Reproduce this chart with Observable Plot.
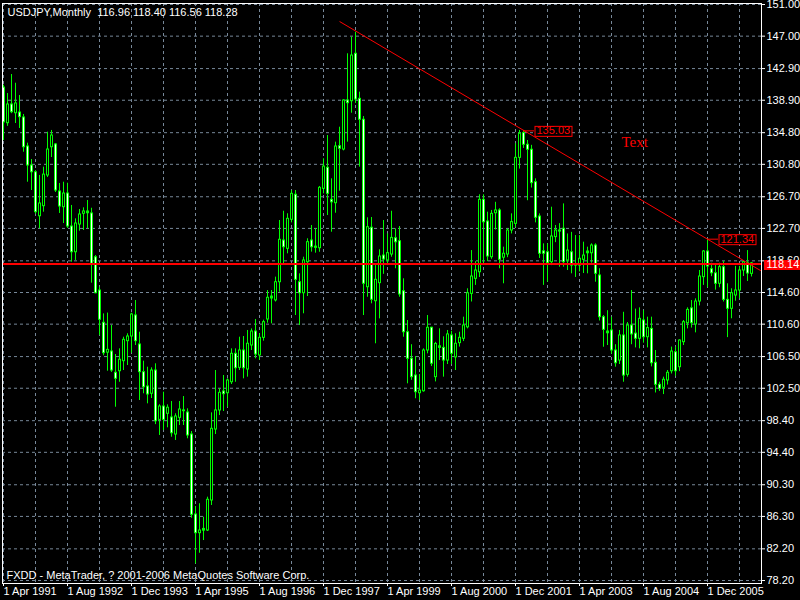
<!DOCTYPE html>
<html><head><meta charset="utf-8">
<script src="https://cdn.jsdelivr.net/npm/d3@7"></script>
<script src="https://cdn.jsdelivr.net/npm/@observablehq/plot@0.6"></script>
<style>
html,body{margin:0;padding:0;background:#000;overflow:hidden;}
#chart svg{display:block;}
</style></head><body><div id="chart"></div>
<script>
// ---------- data ----------
const chartTitle = "USDJPY,Monthly  116.96 118.40 116.56 118.28";
const copyrightText = "FXDD - MetaTrader, ? 2001-2006 MetaQuotes Software Corp.";

// monthly bars, index 0 = Apr 1991
const opens = [140.5,136.0,138.36,137.26,137.35,136.72,133.05,130.65,129.8,124.24,125.51,129.39,132.96,133.31,127.37,125.38,127.11,122.94,119.69,123.19,124.55,124.84,124.59,119.06,114.85,110.77,107.0,107.14,104.45,104.65,105.92,108.45,109.04,111.7,108.03,104.53,102.72,101.8,104.74,98.5,100.19,99.27,98.8,96.65,98.76,99.7,99.43,96.65,86.54,84.18,84.5,84.52,88.31,97.28,99.69,102.09,101.87,103.26,106.85,105.08,107.27,104.87,107.9,109.67,106.64,108.87,111.19,113.84,113.6,115.9,121.17,120.12,123.79,126.95,115.9,114.51,118.43,121.17,120.4,120.2,127.7,130.36,126.31,125.89,133.09,132.67,138.87,138.78,144.77,139.08,136.43,115.27,122.78,113.5,115.78,119.27,118.65,119.4,121.46,121.08,114.76,109.58,106.22,104.11,101.87,102.12,107.27,110.14,103.9,107.8,107.6,106.0,109.17,106.4,108.2,108.75,110.2,114.43,116.33,117.16,126.31,123.57,119.06,124.62,124.97,119.0,119.4,122.44,123.28,131.62,134.74,133.27,132.64,128.54,124.2,119.8,119.69,118.43,121.6,122.44,122.65,118.65,119.69,118.0,118.0,118.73,119.56,119.56,120.54,116.75,111.48,109.67,109.8,107.27,106.0,109.17,104.2,110.43,109.4,108.75,111.06,108.95,110.0,105.71,102.93,102.55,103.48,104.65,107.05,105.16,108.32,110.72,112.6,110.56,113.46,116.54,119.78,117.54,117.03,115.7,117.8,113.67,112.54,114.22,114.85,117.38,118.3,116.96];
const highs = [140.8,139.75,142.15,141.05,139.5,137.1,133.47,131.41,130.0,129.39,130.44,134.86,135.08,133.43,128.38,128.54,128.41,125.6,123.91,125.09,125.3,126.23,125.25,119.27,115.27,111.9,112.0,110.43,106.76,107.48,108.95,109.38,111.98,113.59,109.58,105.92,105.16,105.08,105.59,100.41,102.0,100.4,100.82,99.27,100.82,101.45,99.9,97.03,87.55,87.9,86.2,88.73,99.39,104.74,102.43,104.11,103.69,107.48,107.48,108.95,109.04,109.8,110.0,111.19,109.38,111.1,114.85,114.85,116.54,123.7,124.87,124.55,127.49,127.49,116.96,119.06,121.39,123.07,122.65,128.0,131.5,134.44,128.97,133.6,135.49,138.96,144.77,146.87,147.5,139.92,136.84,124.04,124.08,118.0,120.0,123.7,122.0,124.87,122.65,122.94,116.33,111.06,108.0,106.5,104.23,107.48,111.69,110.21,108.3,110.01,109.0,109.8,109.7,109.38,109.58,111.48,115.07,119.9,118.5,126.95,126.95,124.75,124.97,126.0,125.18,120.33,122.65,124.54,133.4,135.08,135.08,133.81,133.2,128.97,124.54,120.75,120.75,125.38,123.07,123.3,125.8,122.0,122.2,121.8,121.8,120.96,120.33,120.75,120.75,117.6,111.69,112.3,111.48,108.0,109.8,112.1,110.8,114.85,112.5,112.66,112.3,111.48,111.48,107.27,103.26,103.9,104.74,107.7,107.7,108.62,111.06,112.66,113.59,113.8,117.38,119.9,121.34,118.3,118.0,118.3,118.5,115.7,115.07,117.9,117.9,118.55,119.9,118.40];
const lows = [133.8,135.6,137.2,135.96,135.33,132.33,128.54,127.49,124.5,122.65,124.75,129.13,131.66,127.24,124.59,123.32,122.69,118.43,118.65,122.35,122.44,122.65,115.78,114.43,109.17,106.6,104.65,104.5,100.1,103.26,104.74,105.37,106.93,107.9,100.95,101.8,100.53,101.2,97.9,96.53,97.16,97.5,96.31,95.9,97.79,97.79,96.11,86.07,80.3,81.65,83.25,84.39,87.68,96.65,99.05,99.56,100.1,102.97,103.26,104.74,103.69,103.9,107.27,106.22,106.01,108.45,110.72,110.64,113.4,114.64,118.23,119.49,123.4,111.69,110.43,111.91,114.09,119.7,119.57,119.69,127.07,124.33,122.22,124.62,127.4,132.5,133.6,137.26,138.5,130.44,111.69,114.0,113.17,108.12,111.27,116.9,118.0,119.06,117.6,114.0,108.95,103.06,103.5,101.17,100.95,102.0,106.85,105.24,103.3,106.0,103.9,105.5,105.5,104.74,107.7,108.4,110.0,113.4,115.5,116.5,118.23,118.5,118.8,122.5,117.6,115.7,119.0,122.0,122.8,130.2,132.8,126.2,127.8,123.4,118.9,115.5,115.9,118.0,120.9,117.8,117.8,117.38,116.96,116.5,117.2,117.0,116.96,118.3,115.9,111.0,107.68,107.9,106.8,105.16,105.5,103.26,103.9,108.0,107.6,107.48,108.2,107.6,105.2,101.9,102.1,101.7,102.9,104.3,104.0,104.6,107.9,110.0,110.1,109.5,112.9,115.5,115.2,116.6,114.9,115.2,113.4,108.9,111.28,113.5,113.8,116.62,116.0,116.56];
const closes = [136.1,138.36,137.39,138.49,136.76,132.96,130.65,129.8,124.75,125.85,129.5,132.67,134.44,127.49,125.47,127.11,122.94,119.69,123.32,124.46,124.84,124.62,118.23,114.51,111.15,106.93,107.35,104.74,103.69,106.1,108.62,109.04,111.82,108.45,104.53,102.63,101.71,104.74,98.33,100.19,98.5,100.03,96.81,98.93,99.81,99.6,96.53,86.5,84.18,84.52,84.72,88.4,97.37,99.69,101.92,101.75,103.48,106.85,105.03,107.27,105.03,108.12,109.67,106.76,108.87,110.85,113.93,114.09,115.9,121.26,120.32,123.91,127.07,116.2,114.51,118.65,120.96,120.32,120.24,127.83,130.52,127.07,126.0,133.05,132.76,138.87,138.53,144.55,138.99,136.43,115.7,122.85,113.68,116.2,119.15,118.77,119.57,121.5,120.95,114.35,109.58,106.22,103.9,102.0,102.2,107.27,110.14,105.59,108.1,107.6,106.0,109.3,106.85,108.12,108.87,110.43,114.51,116.62,117.38,126.31,123.48,119.15,124.54,124.97,118.73,119.5,122.44,123.5,131.62,134.66,133.27,132.64,128.42,124.04,119.49,119.5,118.3,121.68,122.44,122.3,118.43,119.9,118.0,118.1,118.86,119.27,119.78,120.54,116.96,111.48,109.88,109.45,107.27,105.66,109.17,104.1,110.43,109.3,108.75,111.27,108.95,110.1,105.66,102.93,102.43,103.57,104.45,107.14,104.65,108.53,110.85,112.4,110.72,113.46,116.62,119.78,117.88,117.03,115.7,117.8,113.67,112.54,114.51,114.85,117.38,118.43,117.0,118.28];

// axis ticks
const xTickIndex = [0,16,32,48,64,80,96,112,128,144,160,176];
const xTickLabels = ["1 Apr 1991","1 Aug 1992","1 Dec 1993","1 Apr 1995","1 Aug 1996","1 Dec 1997","1 Apr 1999","1 Aug 2000","1 Dec 2001","1 Apr 2003","1 Aug 2004","1 Dec 2005"];
const xGridIndex = [0,8,16,24,32,40,48,56,64,72,80,88,96,104,112,120,128,136,144,152,160,168,176,184];
const yTicks = [151.0,147.0,142.9,138.9,134.8,130.8,126.7,122.7,118.6,114.6,110.6,106.5,102.5,98.4,94.4,90.3,86.3,82.2,78.2];

// objects on the chart
const bidPrice = 118.14;
const trendAnchorIdx = [88, 176];
const trendAnchorPrice = [147.66, 121.34];
const trendStartIdx = 84.1, trendEndIdx = 189.25;
const priceLabelIdx = [130, 176];
const priceLabelValue = [135.03, 121.34];
const noteText = "Text", noteIdx = 154.5, notePrice = 132.95;

// ---------- build ----------
const candles = opens.map((o, i) => ({
  i, open: o, high: highs[i], low: lows[i], close: closes[i],
  top: Math.max(o, closes[i]), bottom: Math.min(o, closes[i]), bull: closes[i] >= o
}));
const slope = (trendAnchorPrice[1] - trendAnchorPrice[0]) / (trendAnchorIdx[1] - trendAnchorIdx[0]);
const trendPts = [trendStartIdx, trendEndIdx].map(i => ({i, price: trendAnchorPrice[0] + slope * (i - trendAnchorIdx[0])}));
const priceLabels = priceLabelIdx.map((i, k) => ({i, price: priceLabelValue[k]}));
const pxPerPrice = 576 / (151 - 78.2);
const thick = candles.filter(d => (d.top - d.bottom) * pxPerPrice > 2.2);

const LIME = "#00ff00", GRID = "#778899";
const FONT = "'Liberation Sans Narrow', 'Liberation Sans', Arial, sans-serif";

const chart = Plot.plot({
  width: 800, height: 600,
  marginLeft: 2, marginRight: 39, marginTop: 3, marginBottom: 17,
  style: {background: "#000", color: "#fff", fontFamily: FONT, fontSize: "11px"},
  x: {domain: [0, 187], range: [3, 751]},
  y: {domain: [78.2, 151], range: [580, 4]},
  marks: [
    Plot.gridY(yTicks, {stroke: GRID, strokeOpacity: 1, strokeDasharray: "3,3"}),
    Plot.gridX(xGridIndex, {stroke: GRID, strokeOpacity: 1, strokeDasharray: "3,3"}),
    Plot.ruleX(candles, {x: "i", y1: "low", y2: "high", stroke: LIME}),
    Plot.ruleX(candles, {x: "i", y1: "top", y2: "bottom", stroke: LIME, strokeWidth: 3, insetTop: -0.5, insetBottom: -0.5}),
    Plot.ruleX(thick.filter(d => d.bull), {x: "i", y1: "top", y2: "bottom", stroke: "#000", strokeWidth: 1, insetTop: 0.5, insetBottom: 0.5}),
    Plot.ruleX(thick.filter(d => !d.bull), {x: "i", y1: "top", y2: "bottom", stroke: "#fff", strokeWidth: 1, insetTop: 0.5, insetBottom: 0.5}),
    Plot.ruleY([bidPrice], {y: d => d, stroke: "#ff0000", strokeWidth: 2, dy: -0.5}),
    Plot.line(trendPts, {x: "i", y: "price", stroke: "#ff0000", strokeWidth: 1}),
    Plot.ruleY(priceLabels, {y: "price", x1: "i", x2: d => d.i + 2.75, stroke: "#ff0000"}),
    Plot.text(priceLabels, {x: "i", y: "price", text: d => d.price.toFixed(2), dx: 13, textAnchor: "start", lineAnchor: "middle", fill: "#ff0000"}),
    Plot.text([noteText], {x: () => noteIdx, y: () => notePrice, text: d => d, textAnchor: "start", lineAnchor: "bottom", fill: "#ff0000", fontFamily: "'Liberation Serif', 'Times New Roman', serif", fontSize: 15}),
    Plot.text([chartTitle], {frameAnchor: "top-left", text: d => d, textAnchor: "start", lineAnchor: "bottom", dx: 5, dy: 12, fill: "#fff"}),
    Plot.text([copyrightText], {frameAnchor: "bottom-left", text: d => d, textAnchor: "start", lineAnchor: "bottom", dx: 4, dy: -5, fill: "#fff"}),
    Plot.frame({stroke: "#fff"}),
    Plot.axisY(yTicks, {anchor: "right", label: null, tickSize: 3, tickPadding: 2, tickFormat: d => d.toFixed(2), stroke: "#fff", fill: "#fff"}),
    Plot.axisX(xTickIndex, {anchor: "bottom", label: null, tickSize: 3, tickPadding: 1, textAnchor: "start", tickFormat: d => xTickLabels[xTickIndex.indexOf(d)], stroke: "#fff", fill: "#fff"}),
    Plot.text([bidPrice], {y: d => d, frameAnchor: "right", dx: 5, textAnchor: "start", lineAnchor: "middle", text: d => d.toFixed(2), fill: "#fff"})
  ]
});
document.getElementById("chart").append(chart);

const labelTexts = new Set(priceLabelValue.map(v => v.toFixed(2)));
const bidText = bidPrice.toFixed(2);
function boxText(t, fill, stroke, padL, padR) {
  const b = t.getBBox();
  const r = document.createElementNS("http://www.w3.org/2000/svg", "rect");
  r.setAttribute("x", Math.round(b.x - padL) + 0.5);
  r.setAttribute("y", Math.round(b.y + 1) + 0.5);
  r.setAttribute("width", Math.round(b.width + padL + padR));
  r.setAttribute("height", Math.round(b.height - 2));
  r.setAttribute("fill", fill);
  r.setAttribute("stroke", stroke);
  const tr = t.getAttribute("transform");
  if (tr) r.setAttribute("transform", tr);
  t.parentNode.insertBefore(r, t);
}
Array.from(chart.querySelectorAll("text")).forEach(t => {
  const s = t.textContent.trim();
  if (labelTexts.has(s)) boxText(t, "#000", "#ff0000", 2, 1);
  else if (s === bidText) boxText(t, "#ff0000", "none", 3, 3);
});
</script></body></html>
